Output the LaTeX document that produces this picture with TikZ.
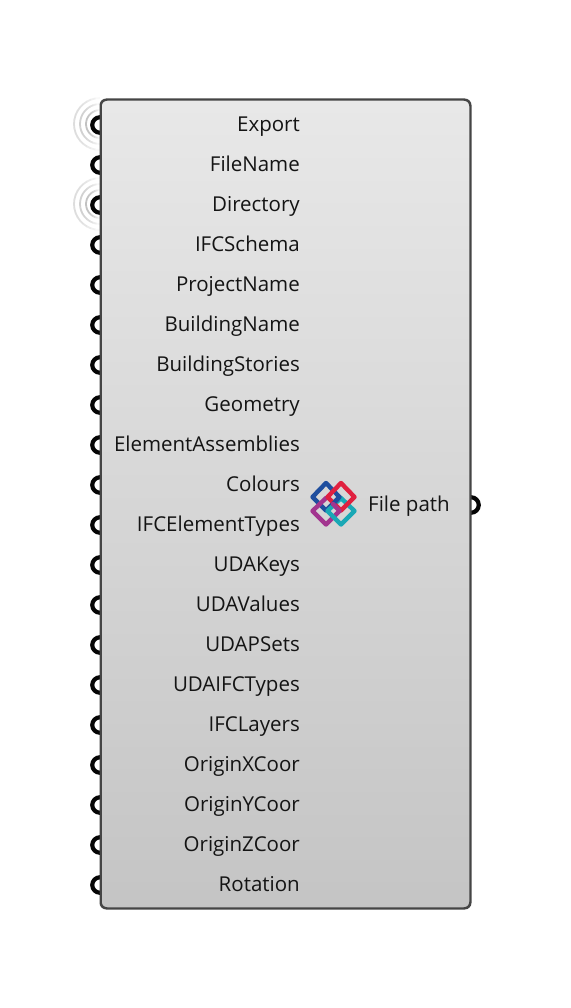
\documentclass[tikz,border=0pt]{standalone}
\usepackage{fontspec}
\setmainfont{Open Sans}
\usetikzlibrary{calc}
\definecolor{gripc}{HTML}{050505}
\definecolor{bodyedge}{HTML}{454545}
\definecolor{labelc}{HTML}{141414}
\definecolor{ifcblue}{HTML}{1F4E9E}
\definecolor{ifcred}{HTML}{E0203F}
\definecolor{ifcpurple}{HTML}{A2358F}
\definecolor{ifcteal}{HTML}{1AA8B5}
\tikzset{
  gripnode/.style={circle,draw=gripc,line width=4.2pt,fill=white,minimum size=15.5pt,inner sep=0pt},
  paramlabel/.style={anchor=base east,inner sep=0pt,text=labelc,font=\fontsize{20.5}{22}\selectfont},
  outlabel/.style={anchor=base west,inner sep=0pt,text=labelc,font=\fontsize{20.5}{22}\selectfont},
  bodybox/.style={draw=bodyedge,line width=1.5pt,rounded corners=6pt,inner sep=0pt,top color=black!9,bottom color=black!23,minimum width=369pt,minimum height=808pt},
  ifcline/.style={line width=4.4pt,line join=round,line cap=round},
}
\newcommand{\wavearcs}[2]{%
  \foreach \r/\base in {14/24,20/18,26/13}{
    \foreach \a in {90,100,...,260}{
      \pgfmathsetmacro{\mid}{abs(\a+5-180)}
      \pgfmathsetmacro{\shadeval}{\base*(1-(\mid/90)^3)+0.3}
      \draw[black!\shadeval,line width=1.8pt] ($(#1,#2)+(\a:\r pt)$) arc[start angle=\a,end angle=\a+10.5,radius=\r pt];
    }
  }%
}
\begin{document}
\begin{tikzpicture}[x=1pt,y=-1pt]
\useasboundingbox (0,0) rectangle (570,1008);
\wavearcs{100}{124}
\wavearcs{100}{204}
\foreach \i in {0,...,19}{
  \node[gripnode] (g\i) at (100,{125+40*\i}) {};
}
\node[gripnode] (gout) at (471,505) {};
\node[bodybox] (body) at (285.5,504) {};
\begin{scope}
  \clip[rounded corners=6pt] (body.north west) rectangle (body.south east);
  \shade[top color=black!4,bottom color=black!10] (body.north west) rectangle ($(body.north east)+(0,18pt)$);
\end{scope}
\draw[draw=bodyedge,line width=1.5pt,rounded corners=6pt] (body.north west) rectangle (body.south east);
\foreach \i/\t in {0/Export,1/FileName,2/Directory,3/IFCSchema,4/ProjectName,5/BuildingName,6/BuildingStories,7/Geometry,8/ElementAssemblies,9/Colours,10/IFCElementTypes,11/UDAKeys,12/UDAValues,13/UDAPSets,14/UDAIFCTypes,15/IFCLayers,16/OriginXCoor,17/OriginYCoor,18/OriginZCoor,19/Rotation}{
  \node[paramlabel] (p\i) at (300,{131.5+40*\i}) {\t};
}
\node[outlabel] (out) at (368,511.5) {File path};
% IFC logo
\draw[ifcline,ifcblue] (326,483) -- (312.5,497) -- (326,510.5) -- (339.5,497) -- cycle;
\draw[ifcline,ifcpurple] (326,498) -- (312.5,511) -- (326,524.5) -- (339.5,511);
\draw[ifcline,ifcteal] (341,498) -- (354.5,511) -- (341,524.5) -- (327.5,511) -- cycle;
\draw[ifcline,ifcred] (327.5,497) -- (341,483) -- (354.5,497) -- (341,510.5) -- cycle;
\draw[ifcline,ifcblue] (333,504) -- (339.5,497);
\draw[ifcline,ifcpurple] (339.5,511) -- (333,504);
\end{tikzpicture}
\end{document}
